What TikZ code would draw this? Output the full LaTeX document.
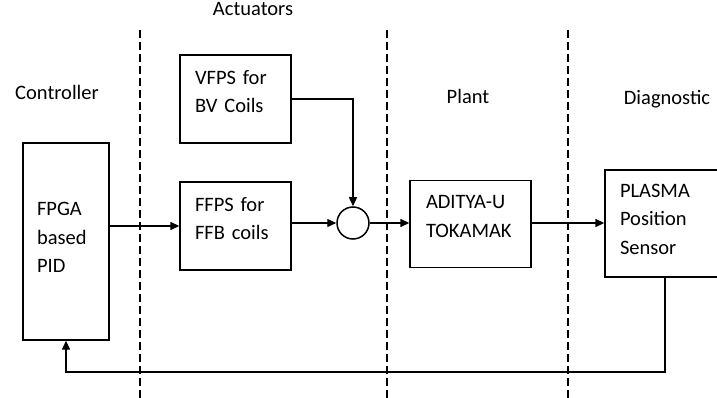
\documentclass[tikz,border=0pt]{standalone}
\usepackage{fontspec}
\setmainfont{Carlito}
\usetikzlibrary{arrows.meta, positioning}

\tikzset{
  block/.style={draw, line width=1.4pt, align=left, inner ysep=0pt,
    font=\fontsize{20.5}{28.5}\selectfont},
  lift/.style={execute at end node={\par\vspace*{#1}}},
  tag/.style={font=\fontsize{20.5}{24}\selectfont},
  flow/.style={line width=1.4pt, -{Triangle[length=9pt,width=8pt]}},
  divider/.style={line width=1.3pt, dash pattern=on 8pt off 4pt}
}

\begin{document}
\begin{tikzpicture}[x=1pt, y=-1pt]
  \useasboundingbox (0,0) rectangle (717,398);

  % section borders
  \draw[divider] (140,30) -- (140,398);
  \draw[divider] (387,30) -- (387,398);
  \draw[divider] (568,30) -- (568,398);

  % section titles
  \node[tag] (ctrl-title)  at (57,92)  {Controller};
  \node[tag] (act-title)   at (253,9)  {Actuators};
  \node[tag] (plant-title) at (468,96) {Plant};
  \node[tag] (diag-title)  at (667,99) {Diagnostic};

  % blocks
  \node[block, lift=8pt, minimum width=86pt, minimum height=197pt, inner xsep=14pt, text width=58pt]
    (pid) at (66,241.5) {FPGA\\based\\PID};
  \node[block, lift=15pt, minimum width=111pt, minimum height=88pt, inner xsep=15pt, text width=81pt]
    (vfps) at (235.5,99) {VFPS for\\BV Coils};
  \node[block, lift=15pt, minimum width=111pt, minimum height=88pt, inner xsep=15pt, text width=81pt]
    (ffps) at (235.5,226) {FFPS for\\FFB coils};
  \node[draw, circle, line width=1.5pt, minimum size=32pt, inner sep=0pt]
    (sum) at (353,223) {};
  \node[block, lift=15pt, minimum width=121pt, minimum height=87pt, inner xsep=16pt, text width=89pt]
    (aditya) at (470.5,224) {ADITYA-U\\TOKAMAK};
  \node[block, lift=9pt, minimum width=120pt, minimum height=107pt, inner xsep=15pt, text width=90pt]
    (plasma) at (665,223.5) {PLASMA\\Position\\Sensor};

  % signal flow
  \draw[flow] (pid.east |- ffps.west) -- (ffps.west);
  \draw[flow] (ffps.east |- sum.west) -- (sum.west);
  \draw[flow] (vfps.east) -| (sum.north);
  \draw[flow] (sum.east) -- (sum.east -| aditya.west);
  \draw[flow] (aditya.east |- sum.east) -- (sum.east -| plasma.west);

  % feedback path
  \coordinate (fb) at (0,372);
  \draw[flow] (plasma.south) -- (plasma.south |- fb) -| (pid.south);
\end{tikzpicture}
\end{document}
